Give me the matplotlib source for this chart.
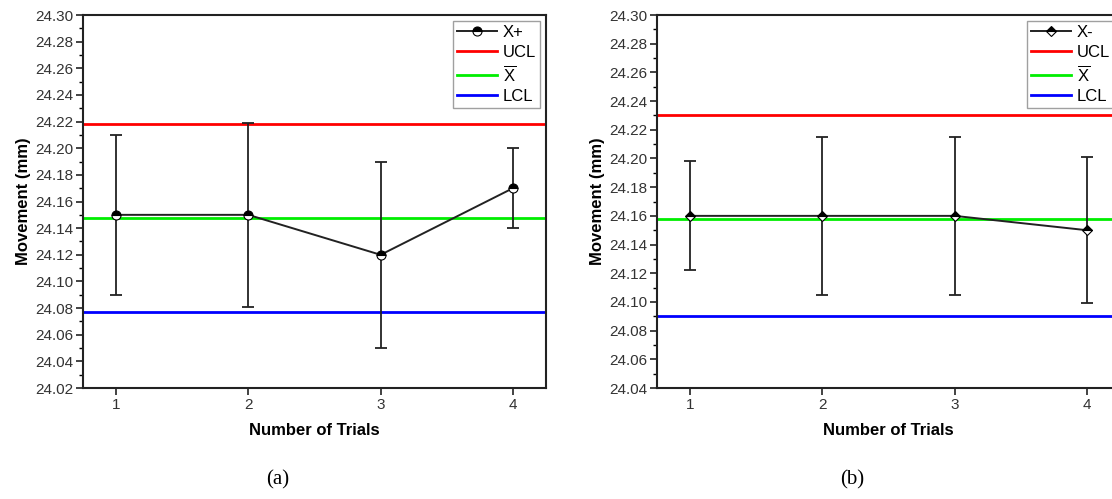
import matplotlib.pyplot as plt
from matplotlib.ticker import MultipleLocator

plt.rcParams['font.family'] = ['Liberation Sans', 'DejaVu Sans']
plt.rcParams['mathtext.fontset'] = 'custom'
plt.rcParams['mathtext.rm'] = 'Liberation Sans'

trials = [1, 2, 3, 4]

# panel (a) X+
xp_mean = [24.15, 24.15, 24.12, 24.17]
xp_err = [0.06, 0.069, 0.07, 0.03]
xp_ucl, xp_cl, xp_lcl = 24.218, 24.148, 24.077

# panel (b) X-
xm_mean = [24.16, 24.16, 24.16, 24.15]
xm_err = [0.038, 0.055, 0.055, 0.051]
xm_ucl, xm_cl, xm_lcl = 24.230, 24.158, 24.090

fig = plt.figure(figsize=(11.12, 4.99), dpi=100)
ax1 = fig.add_axes([0.0746, 0.2224, 0.4164, 0.7475])
ax2 = fig.add_axes([0.5908, 0.2224, 0.4164, 0.7475])


def panel(ax, mean, err, ucl, cl, lcl, name, marker, ms, ylim, tag, tagx):
    ax.errorbar(trials, mean, yerr=err, fmt='none', ecolor='#222222',
                elinewidth=1.3, capsize=4, capthick=1.3, zorder=4)
    ax.plot(trials, mean, color='#222222', lw=1.4, marker=marker, ms=ms,
            fillstyle='top', markerfacecolor='black',
            markerfacecoloralt='white', markeredgecolor='black',
            markeredgewidth=0.8, label=name, zorder=5)
    ax.axhline(ucl, color='#ff0000', lw=2, label='UCL')
    ax.axhline(cl, color='#00ee00', lw=2, label=r'$\overline{\mathrm{X}}$')
    ax.axhline(lcl, color='#0000ff', lw=2, label='LCL')
    ax.set_xlim(0.75, 4.25)
    ax.set_ylim(*ylim)
    ax.set_xticks(trials)
    ax.yaxis.set_major_locator(MultipleLocator(0.02))
    ax.yaxis.set_minor_locator(MultipleLocator(0.01))
    ax.yaxis.set_major_formatter(plt.FormatStrFormatter('%.2f'))
    ax.tick_params(direction='out', length=5, width=1.2, labelsize=11,
                   colors='#222222', labelcolor='#333333', pad=2)
    ax.tick_params(which='minor', direction='out', length=3, width=1)
    for s in ax.spines.values():
        s.set_linewidth(1.5)
        s.set_color('#222222')
    ax.set_xlabel('Number of Trials', fontsize=12, fontweight='bold', labelpad=8)
    ax.set_ylabel('Movement (mm)', fontsize=12, fontweight='bold', labelpad=3)
    leg = ax.legend(loc='upper right', fontsize=12, fancybox=False,
                    edgecolor='#888888', borderpad=0.25, labelspacing=0.28,
                    handlelength=2.4, handletextpad=0.35, borderaxespad=0.35)
    leg.get_frame().set_linewidth(1.0)
    fig.text(tagx, 0.038, tag, fontsize=15, family='Liberation Serif',
             ha='center', va='center')


panel(ax1, xp_mean, xp_err, xp_ucl, xp_cl, xp_lcl, 'X+', 'o', 6.5,
      (24.02, 24.30), '(a)', 0.25)
panel(ax2, xm_mean, xm_err, xm_ucl, xm_cl, xm_lcl, 'X-', 'D', 5.5,
      (24.04, 24.30), '(b)', 0.766)

fig.savefig('out.png', dpi=100)
